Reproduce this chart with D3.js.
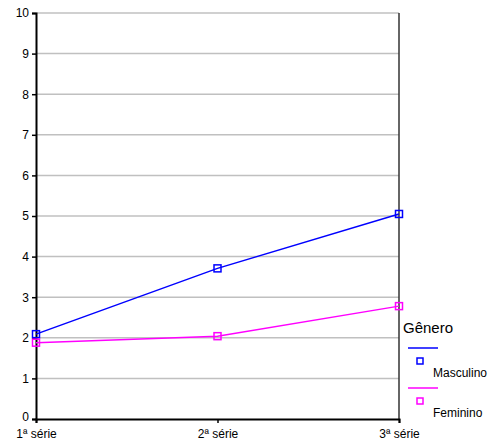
<!DOCTYPE html>
<html><head><meta charset="utf-8">
<script src="https://cdn.jsdelivr.net/npm/d3@7"></script>
<style>body{margin:0;background:#fff}svg{display:block;font-family:"Liberation Sans",Arial,sans-serif}</style>
</head><body><svg id="c" width="501" height="446"></svg>
<script>
const categories = ["1ª série", "2ª série", "3ª série"];
const masculino = [2.09, 3.71, 5.05];
const feminino = [1.88, 2.04, 2.78];
const yTicks = [0,1,2,3,4,5,6,7,8,9,10];
const seriesNames = ["Masculino", "Feminino"];
const colors = ["#0000ff", "#ff00ff"];

const svg = d3.select("#c");
const x = d3.scalePoint().domain(categories).range([36, 399]);
const y = d3.scaleLinear().domain([0, 10]).range([419, 13]);

// grid
svg.append("g").selectAll("line").data(yTicks.filter(d=>d>0)).join("line")
  .attr("x1", 36).attr("x2", 399).attr("y1", d=>y(d)).attr("y2", d=>y(d))
  .attr("stroke", "#c0c0c0").attr("stroke-width", 1.5);

// right border
svg.append("line").attr("x1", 399).attr("x2", 399).attr("y1", y(10)).attr("y2", y(0))
  .attr("stroke", "#333").attr("stroke-width", 1.5);

// y axis
const ya = svg.append("g").attr("transform", "translate(36,0)")
  .call(d3.axisLeft(y).tickValues(yTicks).tickSize(4).tickPadding(3).tickFormat(d3.format("d")));
ya.select(".domain").attr("stroke", "#000").attr("stroke-width", 2);
ya.selectAll(".tick line").attr("stroke", "#000").attr("stroke-width", 1.5);
ya.selectAll("text").attr("font-size", 12).attr("fill", "#000").style("font-family", "Liberation Sans, Arial, sans-serif");
ya.selectAll(".tick").filter(d=>d===0).select("text").attr("dy", "0.1em");

// x axis
const xa = svg.append("g").attr("transform", "translate(0,419)")
  .call(d3.axisBottom(x).tickSize(4).tickPadding(6));
xa.select(".domain").attr("stroke", "#000").attr("stroke-width", 2);
xa.selectAll(".tick line").attr("stroke", "#000").attr("stroke-width", 1.5);
xa.selectAll("text").attr("font-size", 12).attr("fill", "#000").style("font-family", "Liberation Sans, Arial, sans-serif");

const data = [masculino, feminino];
const line = d3.line().x((d,i)=>x(categories[i])).y(d=>y(d));
data.forEach((vals, k) => {
  svg.append("path").datum(vals).attr("d", line).attr("fill", "none")
    .attr("stroke", colors[k]).attr("stroke-width", 1.5);
  svg.append("g").selectAll("rect").data(vals).join("rect")
    .attr("x", (d,i)=>x(categories[i]) - 3.5).attr("y", d=>y(d) - 3.5)
    .attr("width", 7).attr("height", 7).attr("fill", "none")
    .attr("stroke", colors[k]).attr("stroke-width", 1.5);
});

// legend
const lg = svg.append("g");
lg.append("text").attr("x", 403).attr("y", 333).attr("font-size", 15).text("Gênero");
seriesNames.forEach((n, k) => {
  const oy = 348 + k * 40;
  lg.append("line").attr("x1", 408).attr("x2", 438).attr("y1", oy).attr("y2", oy)
    .attr("stroke", colors[k]).attr("stroke-width", 1.5);
  lg.append("rect").attr("x", 417).attr("y", oy + 10).attr("width", 6).attr("height", 6)
    .attr("fill", "none").attr("stroke", colors[k]).attr("stroke-width", 1.5);
  lg.append("text").attr("x", 433).attr("y", oy + 29).attr("font-size", 12).text(n);
});
</script></body></html>
